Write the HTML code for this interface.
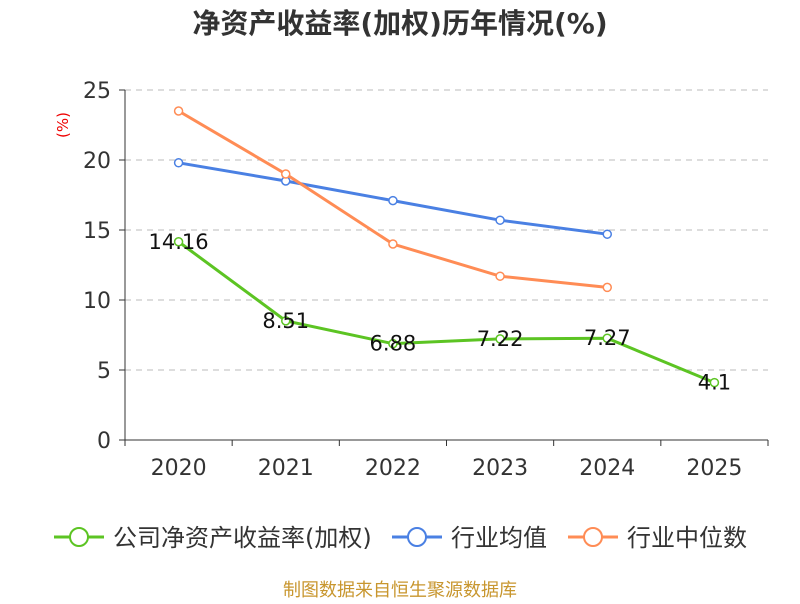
<!DOCTYPE html>
<html><head><meta charset="utf-8"><style>
body{margin:0;background:#fff;font-family:"DejaVu Sans","Noto Sans CJK SC",sans-serif;}
</style></head><body>
<svg id="chart" width="800" height="600" xmlns="http://www.w3.org/2000/svg" font-family="DejaVu Sans, Noto Sans CJK SC, sans-serif">
<text x="400" y="33" text-anchor="middle" font-size="28" font-weight="bold" fill="#333">净资产收益率(加权)历年情况(%)</text>
<text transform="translate(68,125) rotate(-90)" text-anchor="middle" font-size="15" fill="#e00">(%)</text>
<g id="grid"></g><g id="axes"></g><g id="series"></g>
<g>
<g><line x1="54" y1="537" x2="104" y2="537" stroke="#5cc423" stroke-width="3"/><circle cx="79" cy="537" r="9" fill="#fff" stroke="#5cc423" stroke-width="2"/><text x="113" y="546" font-size="24" fill="#333">公司净资产收益率(加权)</text></g>
<g><line x1="392" y1="537" x2="442" y2="537" stroke="#4a80e3" stroke-width="3"/><circle cx="417" cy="537" r="9" fill="#fff" stroke="#4a80e3" stroke-width="2"/><text x="451" y="546" font-size="24" fill="#333">行业均值</text></g>
<g><line x1="568" y1="537" x2="618" y2="537" stroke="#ff8c55" stroke-width="3"/><circle cx="593" cy="537" r="9" fill="#fff" stroke="#ff8c55" stroke-width="2"/><text x="627" y="546" font-size="24" fill="#333">行业中位数</text></g>
</g>
<text x="400" y="596" text-anchor="middle" font-size="18" fill="#c8962e">制图数据来自恒生聚源数据库</text>
</svg>
<script>
const categories=["2020","2021","2022","2023","2024","2025"];
const companyValues=[14.16,8.51,6.88,7.22,7.27,4.1];
const avgValues=[19.8,18.5,17.1,15.7,14.7,null];
const medianValues=[23.5,19.0,14.0,11.7,10.9,null];
const yTicks=[0,5,10,15,20,25];
const NS="http://www.w3.org/2000/svg";
const L=125,R=768,T=90,B=440,yMax=25;
const bw=(R-L)/categories.length;
const xs=i=>L+bw*(i+0.5);
const ys=v=>B-(v/yMax)*(B-T);
function mk(tag,attrs,parent){const e=document.createElementNS(NS,tag);for(const k in attrs)e.setAttribute(k,attrs[k]);parent.appendChild(e);return e;}
const grid=document.getElementById('grid'),axes=document.getElementById('axes'),series=document.getElementById('series');
yTicks.forEach(t=>{
 if(t>0){const g=mk('line',{x1:L,x2:R,y1:ys(t),y2:ys(t),stroke:'#bbb','stroke-dasharray':'6,5'},grid);
 
 }
 const tk=mk('line',{x1:L-6,x2:L,y1:ys(t),y2:ys(t),stroke:'#333'},axes);
 
 
 const tx=mk('text',{x:L-14,y:ys(t)+8,'text-anchor':'end','font-size':22,fill:'#333'},axes);tx.textContent=t;
 
 
});
const ya=mk('line',{x1:L,x2:L,y1:T,y2:B,stroke:'#333'},axes);


const xa=mk('line',{x1:L,x2:R,y1:B,y2:B,stroke:'#333'},axes);


for(let i=0;i<=categories.length;i++){const tk=mk('line',{x1:L+bw*i,x2:L+bw*i,y1:B,y2:B+6,stroke:'#333'},axes);
 
 }
categories.forEach((c,i)=>{const tx=mk('text',{x:xs(i),y:B+35,'text-anchor':'middle','font-size':22,fill:'#333'},axes);tx.textContent=c;
 
 });
function drawSeries(vals,color,name,labels){
 const pts=[];vals.forEach((v,i)=>{if(v!==null)pts.push([xs(i),ys(v),v]);});
 const p=mk('polyline',{points:pts.map(q=>q[0]+','+q[1]).join(' '),fill:'none',stroke:color,'stroke-width':3},series);
 
 
 pts.forEach(q=>{const c=mk('circle',{cx:q[0],cy:q[1],r:4,fill:'#fff',stroke:color,'stroke-width':1.5},series);
  
  
  if(labels){const t=mk('text',{x:q[0],y:q[1]+7,'text-anchor':'middle','font-size':21,fill:'#111'},series);t.textContent=q[2];
   
   }});
}
drawSeries(avgValues,'#4a80e3','industry-avg',false);
drawSeries(medianValues,'#ff8c55','industry-median',false);
drawSeries(companyValues,'#5cc423','company-roe',true);
</script>
</body></html>
